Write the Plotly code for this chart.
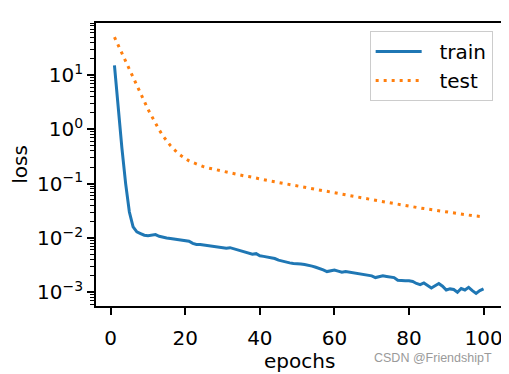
import plotly.graph_objects as go

epochs = list(range(1, 101))

train_loss = [
    15.0, 2.4, 0.45, 0.10, 0.030, 0.016, 0.0129, 0.0120, 0.0112, 0.0110,
    0.0111, 0.0115, 0.0107, 0.0102, 0.0100, 0.00977, 0.00955, 0.00933, 0.00912, 0.00912,
    0.00871, 0.00794, 0.00759, 0.00759, 0.00741, 0.00741, 0.00724, 0.00692, 0.00676, 0.00676,
    0.00646, 0.00661, 0.00631, 0.00589, 0.00562, 0.00550, 0.00525, 0.00501, 0.00513, 0.00468,
    0.00457, 0.00447, 0.00427, 0.00417, 0.00389, 0.00372, 0.00363, 0.00347, 0.00339, 0.00339,
    0.00331, 0.00324, 0.00316, 0.00302, 0.00288, 0.00275, 0.00257, 0.00240, 0.00251, 0.00257,
    0.00245, 0.00234, 0.00240, 0.00234, 0.00229, 0.00219, 0.00219, 0.00214, 0.00209, 0.00200,
    0.00186, 0.00195, 0.00200, 0.00195, 0.00191, 0.00186, 0.00166, 0.00162, 0.00162, 0.00162,
    0.00158, 0.00145, 0.00138, 0.00148, 0.00135, 0.00120, 0.00132, 0.00145, 0.00129, 0.00110,
    0.00115, 0.00112, 0.00100, 0.00117, 0.00110, 0.00123, 0.00107, 0.00095, 0.00107, 0.00115,
]

test_loss = [
    50.0, 35.5, 24.5, 17.8, 12.3, 8.7, 6.17, 4.37, 3.16, 2.34,
    1.74, 1.29, 0.977, 0.759, 0.603, 0.501, 0.427, 0.363, 0.324, 0.288,
    0.263, 0.245, 0.229, 0.219, 0.204, 0.195, 0.188, 0.182, 0.174, 0.168,
    0.162, 0.158, 0.153, 0.148, 0.143, 0.138, 0.135, 0.130, 0.126, 0.122,
    0.117, 0.115, 0.111, 0.108, 0.105, 0.102, 0.100, 0.0966, 0.0944, 0.0912,
    0.0887, 0.0863, 0.0839, 0.0817, 0.0794, 0.0773, 0.0752, 0.0731, 0.0711, 0.0692,
    0.0670, 0.0650, 0.0631, 0.0611, 0.0593, 0.0575, 0.0557, 0.0541, 0.0525, 0.0508,
    0.0493, 0.0479, 0.0465, 0.0451, 0.0438, 0.0425, 0.0412, 0.0398, 0.0389, 0.0380,
    0.0372, 0.0363, 0.0355, 0.0347, 0.0339, 0.0331, 0.0324, 0.0315, 0.0306, 0.0298,
    0.0290, 0.0282, 0.0274, 0.0268, 0.0264, 0.0261, 0.0257, 0.0253, 0.0249, 0.0245,
]

series_names = ["train", "test"]
x_ticks = [0, 20, 40, 60, 80, 100]
y_ticks = [1e-3, 1e-2, 1e-1, 1e0, 1e1]
y_tick_labels = ["10<sup>\u22123</sup>", "10<sup>\u22122</sup>", "10<sup>\u22121</sup>",
                 "10<sup>0</sup>", "10<sup>1</sup>"]
y_minor = [m * 10.0 ** e for e in range(-4, 2) for m in range(2, 10)]

FONT = "DejaVu Sans"
GAP = "\u00a0\u00a0"

fig = go.Figure()
fig.add_trace(go.Scatter(x=epochs, y=train_loss, mode="lines", name=GAP + series_names[0],
                         line=dict(color="#1f77b4", width=3)))
fig.add_trace(go.Scatter(x=epochs, y=test_loss, mode="lines", name=GAP + series_names[1],
                         line=dict(color="#ff7f0e", width=3, dash="3px,5px")))

axis_common = dict(showgrid=False, zeroline=False, showline=True, mirror=True,
                   linecolor="black", linewidth=1.6, ticks="outside", ticklen=7,
                   tickwidth=1.6, tickcolor="black", automargin=False,
                   tickfont=dict(family=FONT, size=20, color="black"))

# page body has an 8px default margin, so the figure is 8px smaller than the window
fig.update_layout(
    template="none",
    width=501, height=366,
    margin=dict(l=88, r=7, t=15, b=68, autoexpand=False),
    paper_bgcolor="white", plot_bgcolor="white",
    font=dict(family=FONT, size=20, color="black"),
    xaxis=dict(range=[-3.95, 104.95], tickmode="array", tickvals=x_ticks,
               ticklabelstandoff=6, **axis_common),
    yaxis=dict(type="log", range=[-3.254, 1.958], tickmode="array",
               tickvals=y_ticks, ticktext=y_tick_labels,
               title=dict(text="loss", font=dict(family=FONT, size=20), standoff=6),
               minor=dict(tickmode="array", tickvals=y_minor, ticks="outside",
                          ticklen=4, tickwidth=1.2, tickcolor="black", showgrid=False),
               **axis_common),
    legend=dict(x=0.977, y=0.972, xanchor="right", yanchor="top",
                bgcolor="rgba(255,255,255,0.8)", bordercolor="#cccccc", borderwidth=1,
                itemwidth=46, tracegroupgap=0,
                font=dict(family=FONT, size=20, color="black")),
    showlegend=True,
)

# x-axis title
fig.add_annotation(text="epochs", xref="paper", yref="paper",
                   x=0.5, y=-(361 - 305.7) / 283, xanchor="center", yanchor="middle",
                   showarrow=False, font=dict(family=FONT, size=20, color="black"))

fig.add_annotation(text="CSDN @FriendshipT", xref="paper", yref="paper",
                   x=(372 - 96) / 406, y=-(358 - 305.7) / 283, xanchor="left", yanchor="middle",
                   showarrow=False, font=dict(family="Liberation Sans", size=12.5, color="#9a9a9a"))

fig.write_html("out.html")
